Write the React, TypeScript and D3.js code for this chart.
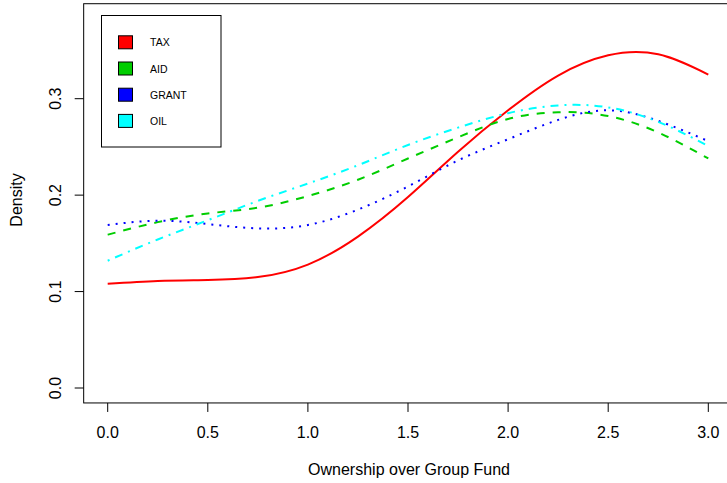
import * as d3 from "d3";

const xs = [0, 0.25, 0.5, 0.75, 1.0, 1.25, 1.5, 1.75, 2.0, 2.25, 2.5, 2.75, 3.0];
const tax = [0.108, 0.111, 0.112, 0.115, 0.128, 0.157, 0.198, 0.245, 0.288, 0.324, 0.345, 0.346, 0.325];
const aid = [0.159, 0.172, 0.181, 0.187, 0.199, 0.216, 0.238, 0.260, 0.279, 0.286, 0.282, 0.265, 0.238];
const grant = [0.169, 0.1735, 0.170, 0.1655, 0.169, 0.185, 0.209, 0.236, 0.258, 0.278, 0.288, 0.277, 0.256];
const oil = [0.132, 0.154, 0.174, 0.194, 0.212, 0.231, 0.252, 0.270, 0.285, 0.293, 0.291, 0.276, 0.251];

const xTicks = [0, 0.5, 1.0, 1.5, 2.0, 2.5, 3.0];
const yTicks = [0, 0.1, 0.2, 0.3];

const series = [
  { name: "TAX", values: tax, color: "#FF0000", dash: "" },
  { name: "AID", values: aid, color: "#00CD00", dash: "8,8" },
  { name: "GRANT", values: grant, color: "#0000FF", dash: "2,6" },
  { name: "OIL", values: oil, color: "#00FFFF", dash: "2,6,8,6" },
];

const W = 727;
const H = 483;
const font = "'Liberation Sans', Arial, Helvetica, sans-serif";
const axisSize = 16;

// pixel positions of x = 0 / 3 and y = 0 / 0.3
const x = d3.scaleLinear().domain([0, 3]).range([107.7, 708.3]);
const y = d3.scaleLinear().domain([0, 0.3]).range([388, 98.7]);

// R adds 4% round the data range
const boxL = x(-0.12);
const boxR = x(3.12);
const boxT = y(0.3985);
const boxB = y(-0.0155);

export default function App() {
  const line = d3
    .line<number>()
    .x((_, i) => x(xs[i]))
    .y((d) => y(d))
    .curve(d3.curveNatural);

  return (
    <svg
      width={W}
      height={H}
      style={{ position: "absolute", left: 0, top: 0, background: "#fff" }}
      fontFamily={font}
    >
      <rect x={0} y={0} width={W} height={H} fill="#fff" />
      {series.map((s) => (
        <path
          key={s.name}
          d={line(s.values) ?? ""}
          fill="none"
          stroke={s.color}
          strokeWidth={2}
          strokeDasharray={s.dash || undefined}
        />
      ))}
      {/* box */}
      <rect x={boxL} y={boxT} width={boxR - boxL} height={boxB - boxT} fill="none" stroke="#000" strokeWidth={1} />

      {/* x axis */}
      {xTicks.map((t) => (
        <g key={t} transform={`translate(${x(t)},${boxB})`}>
          <line y2={9} stroke="#000" />
          <text y={35} textAnchor="middle" fontSize={axisSize}>
            {t.toFixed(1)}
          </text>
        </g>
      ))}
      <text x={(x(0) + x(3)) / 2 + 1} y={475} textAnchor="middle" fontSize={axisSize}>
        Ownership over Group Fund
      </text>

      {/* y axis */}
      {yTicks.map((t) => (
        <g key={t} transform={`translate(${boxL},${y(t)})`}>
          <line x2={-9} stroke="#000" />
          <text transform="translate(-23,0) rotate(-90)" textAnchor="middle" fontSize={axisSize}>
            {t.toFixed(1)}
          </text>
        </g>
      ))}
      <text transform={`translate(22,200) rotate(-90)`} textAnchor="middle" fontSize={axisSize}>
        Density
      </text>

      {/* legend */}
      <rect x={101.5} y={15.5} width={119.5} height={131.5} fill="#fff" stroke="#000" />
      {series.map((s, i) => (
        <g key={s.name} transform={`translate(0,${42.3 + i * 26.2})`}>
          <rect x={118.5} y={-6.5} width={14} height={13} fill={s.color} stroke="#000" />
          <text x={150} y={4} fontSize={10.5}>
            {s.name}
          </text>
        </g>
      ))}
    </svg>
  );
}
